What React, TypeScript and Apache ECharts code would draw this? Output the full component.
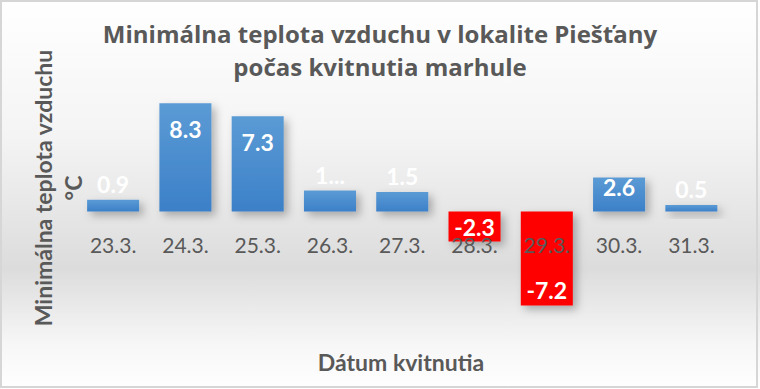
import React, { useEffect, useRef } from "react";
import * as echarts from "echarts";

const categories = ["23.3.", "24.3.", "25.3.", "26.3.", "27.3.", "28.3.", "29.3.", "30.3.", "31.3."];
const temps = [0.9, 8.3, 7.3, 1.6, 1.5, -2.3, -7.2, 2.6, 0.5];
const valueLabels = ["0.9", "8.3", "7.3", "1...", "1.5", "-2.3", "-7.2", "2.6", "0.5"];

const titleText = "Minimálna teplota vzduchu v lokalite Piešťany\npočas kvitnutia marhule";
const yTitle = "Minimálna teplota vzduchu\n°C";
const xTitle = "Dátum kvitnutia";

const Y_MIN = -10;
const Y_MAX = 10;
const GRID_TOP = 81;
const GRID_H = 261;
const PX = GRID_H / (Y_MAX - Y_MIN);
const ZERO_OFFSET = -(0 - Y_MIN) * PX;
const FONT = "Lato, 'Open Sans', sans-serif";
const TITLE_FONT = "'Open Sans', Lato, sans-serif";
const GRAY = "#595959";

function labelFor(v: number, i: number) {
  const h = Math.abs(v) * PX;
  let position: any;
  let offset: number[];
  if (v > 0 && h >= 52) {
    position = ["50%", "0%"];
    offset = [0, 26];
  } else if (v > 0 && h >= 30) {
    position = ["50%", "100%"];
    offset = [0, -25];
  } else if (v > 0) {
    position = ["50%", "0%"];
    offset = [0, -16];
  } else {
    position = ["50%", "100%"];
    offset = [0, -15];
  }
  return {
    show: true,
    position,
    offset,
    align: "center",
    verticalAlign: "middle",
    formatter: () => valueLabels[i],
    color: "#ffffff",
    fontSize: 23,
    fontWeight: "bold",
    fontFamily: FONT,
  };
}

export default function App() {
  const ref = useRef<HTMLDivElement>(null);
  useEffect(() => {
    if (!ref.current) return;
    const chart = echarts.init(ref.current, undefined, { renderer: "svg" });
    const blue = new echarts.graphic.LinearGradient(0, 0, 0, 1, [
      { offset: 0, color: "#5b9bd5" },
      { offset: 1, color: "#3c80c8" },
    ]);
    chart.setOption({
      animation: false,
      title: {
        text: titleText,
        left: "center",
        top: 12,
        textStyle: {
          fontFamily: TITLE_FONT,
          fontSize: 24,
          fontWeight: "bold",
          color: GRAY,
          lineHeight: 33,
        },
      },
      grid: { left: 77, right: 32.5, top: GRID_TOP, height: GRID_H },
      xAxis: {
        type: "category",
        data: categories,
        z: 3,
        position: "bottom",
        offset: ZERO_OFFSET,
        axisLine: { show: false, onZero: false },
        axisTick: { show: false },
        axisLabel: { color: GRAY, fontSize: 21, fontFamily: FONT, margin: 22 },
        splitLine: { show: false },
      },
      yAxis: {
        type: "value",
        min: Y_MIN,
        max: Y_MAX,
        axisLine: { show: false },
        axisTick: { show: false },
        axisLabel: { show: false },
        splitLine: { show: false },
      },
      graphic: [
        {
          type: "rect",
          z: -10,
          silent: true,
          shape: { x: 1, y: 1, width: 756, height: 386 },
          style: { fill: "none", stroke: "#d6d6d6", lineWidth: 2 },
        },
        {
          type: "text",
          x: 58,
          y: 188,
          rotation: Math.PI / 2,
          style: {
            text: yTitle,
            fontFamily: FONT,
            fontSize: 23,
            fontWeight: "bold",
            fill: GRAY,
            align: "center",
            verticalAlign: "middle",
            lineHeight: 30,
          },
        },
        {
          type: "text",
          x: 401,
          y: 362,
          style: {
            text: xTitle,
            fontFamily: FONT,
            fontSize: 23,
            fontWeight: "bold",
            fill: GRAY,
            align: "center",
            verticalAlign: "middle",
          },
        },
      ],
      series: [
        {
          type: "bar",
          z: 2,
          barCategoryGap: "28%",
          data: temps.map((v) => ({
            value: v,
            itemStyle: {
              color: v < 0 ? "#ff0000" : blue,
              shadowBlur: 8,
              shadowOffsetX: 4,
              shadowOffsetY: 4,
              shadowColor: "rgba(0,0,0,0.28)",
            },
          })),
          label: { show: false },
        },
        {
          type: "bar",
          z: 5,
          barGap: "-100%",
          barCategoryGap: "28%",
          silent: true,
          itemStyle: { color: "rgba(0,0,0,0)" },
          data: temps.map((v, i) => ({ value: v, label: labelFor(v, i) })),
        },
      ],
    });
    return () => chart.dispose();
  }, []);
  return (
    <div
      ref={ref}
      style={{
        position: "fixed",
        left: 0,
        top: 0,
        width: 760,
        height: 389,
        background: "linear-gradient(to bottom, #ffffff 0%, #f4f4f4 35%, #dcdcdc 69%, #f6f6f6 88%, #ffffff 100%)",
      }}
    />
  );
}
